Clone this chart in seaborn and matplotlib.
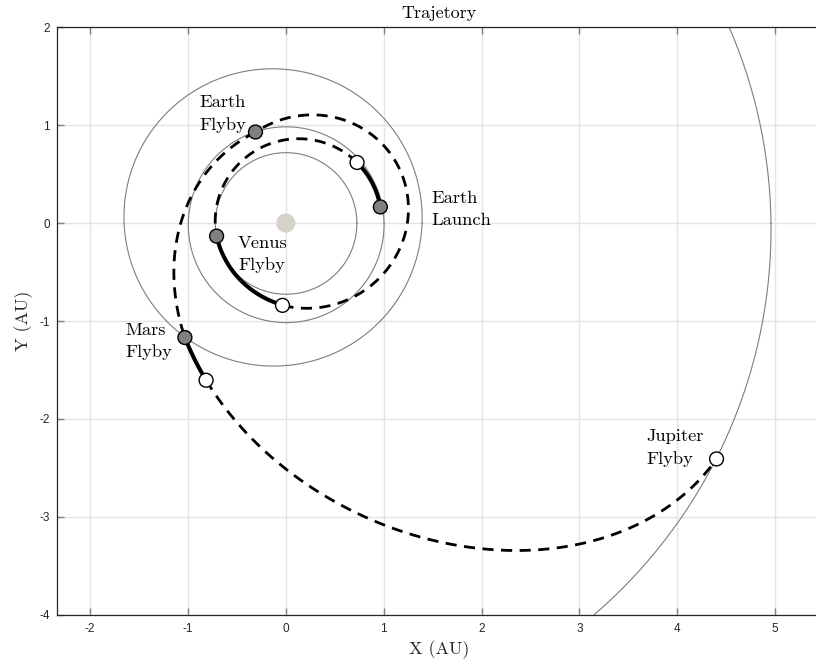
import numpy as np
import pandas as pd
import matplotlib
matplotlib.use("Agg")
import matplotlib.pyplot as plt
import seaborn as sns

# ---- planetary orbits (heliocentric, ecliptic plane) ----
planet_names = ["Venus", "Earth", "Mars", "Jupiter"]
planet_a = [0.723, 1.000, 1.524, 5.203]          # semi-major axis [AU]
planet_e = [0.0068, 0.0167, 0.0934, 0.0489]      # eccentricity
planet_varpi = [131.5, 102.9, 336.0, 14.75]      # longitude of perihelion [deg]

# ---- trajectory legs: conic arcs with the Sun at the focus ----
# r = p / (1 + e cos(theta - omega)), theta swept from theta0 to theta1 [deg]
leg_kind = ["coast", "transfer", "coast", "transfer", "transfer", "coast", "transfer"]
leg_p = [0.8297, 0.8297, 0.926, 0.946, 1.468, 1.8375, 1.8375]
leg_e = [0.1533, 0.1533, 0.2903, 0.2648, 0.545, 0.635, 0.635]
leg_omega = [189.7, 189.7, 199.0, 205.9, 132.5, 155.0, 155.0]
leg_theta0 = [9.7, 40.4, 190.65, 267.7, 108.4, 228.6, 243.1]
leg_theta1 = [40.4, 190.65, 267.7, 468.4, 228.6, 243.1, 331.3]

# ---- mission events (planet encounters and deep-space manoeuvres) ----
event_leg = [0, 0, 2, 3, 4, 5, 6, 6]
event_theta = [9.7, 40.4, 190.65, 267.7, 108.4, 228.6, 243.1, 331.3]
event_kind = ["encounter", "maneuver", "encounter", "maneuver",
              "encounter", "encounter", "maneuver", "maneuver"]

label_text = ["Earth\nLaunch", "Venus\nFlyby", "Earth\nFlyby", "Mars\nFlyby", "Jupiter\nFlyby"]

x_ticks = [-2, -1, 0, 1, 2, 3, 4, 5]
y_ticks = [-4, -3, -2, -1, 0, 1, 2]


def conic_xy(p, e, omega, theta):
    th = np.radians(theta)
    r = p / (1.0 + e * np.cos(th - np.radians(omega)))
    return r * np.cos(th), r * np.sin(th)


# orbit table
orbit_rows = []
for name, a, e, w in zip(planet_names, planet_a, planet_e, planet_varpi):
    th = np.linspace(0.0, 360.0, 721)
    x, y = conic_xy(a * (1 - e ** 2), e, w, th)
    orbit_rows.append(pd.DataFrame({"x": x, "y": y, "planet": name, "i": np.arange(th.size)}))
orbits = pd.concat(orbit_rows, ignore_index=True)

# trajectory table
leg_rows = []
for k, (kind, p, e, w, t0, t1) in enumerate(zip(leg_kind, leg_p, leg_e, leg_omega,
                                                 leg_theta0, leg_theta1)):
    th = np.linspace(t0, t1, 300)
    x, y = conic_xy(p, e, w, th)
    leg_rows.append(pd.DataFrame({"x": x, "y": y, "leg": k, "kind": kind,
                                  "i": np.arange(th.size)}))
legs = pd.concat(leg_rows, ignore_index=True)

# event positions on their legs
ev_x, ev_y = [], []
for li, th in zip(event_leg, event_theta):
    x, y = conic_xy(leg_p[li], leg_e[li], leg_omega[li], th)
    ev_x.append(x)
    ev_y.append(y)
events = pd.DataFrame({"x": ev_x, "y": ev_y, "kind": event_kind})

sns.set_theme(style="whitegrid")
plt.rcParams["font.family"] = ["Liberation Sans", "DejaVu Sans"]

fig = plt.figure(figsize=(8.16, 6.61), dpi=100)
ax = fig.add_axes([56.7 / 816, (661 - 614.7) / 661, 764 / 816, 587.4 / 661])

# planetary orbits
sns.lineplot(data=orbits, x="x", y="y", units="planet", estimator=None, sort=False,
             color="#7d7d7d", lw=0.8, ax=ax, legend=False, zorder=2)

# Sun
ax.scatter([0], [0], s=190, color="#d6d1cb", edgecolor="none", zorder=3)

# trajectory
sns.lineplot(data=legs, x="x", y="y", units="leg", estimator=None, sort=False,
             style="kind", size="kind",
             dashes={"coast": "", "transfer": (4.0, 2.7)},
             sizes={"coast": 2.9, "transfer": 2.0},
             color="black", ax=ax, legend=False, zorder=4)

# event markers
sns.scatterplot(data=events, x="x", y="y", hue="kind",
                palette={"encounter": "#808080", "maneuver": "white"},
                s=100, edgecolor="black", linewidth=1.0, ax=ax, legend=False, zorder=5)

# annotations (left edge, baseline of second line)
label_pos = {"Earth\nLaunch": (1.483, -0.017),
             "Venus\nFlyby": (-0.488, -0.484),
             "Earth\nFlyby": (-0.884, 0.953),
             "Mars\nFlyby": (-1.639, -1.369),
             "Jupiter\nFlyby": (3.679, -2.459)}
for txt in label_text:
    lx, ly = label_pos[txt]
    ax.text(lx, ly, txt, fontfamily="cmr10", fontsize=13.3, ha="left", va="baseline",
            linespacing=1.52, color="black", zorder=6)

ax.set_xlim(-2.34, -2.34 + 764 / 97.9)
ax.set_ylim(-4, 2)
ax.set_xticks(x_ticks)
ax.set_yticks(y_ticks)
ax.set_xticklabels([str(v) for v in x_ticks])
ax.set_yticklabels([str(v) for v in y_ticks])

ax.grid(True, color="#e4e4e4", lw=1.0)
ax.set_axisbelow(True)
for side in ("left", "bottom", "top"):
    ax.spines[side].set_color("#262626")
    ax.spines[side].set_linewidth(0.9)
ax.spines["right"].set_visible(False)

ax.tick_params(direction="in", length=5, width=1.0, color="#808080",
               top=True, bottom=True, left=True, right=False,
               labelsize=8.5, labelcolor="#262626")
ax.tick_params(axis="x", pad=6)
ax.tick_params(axis="y", pad=5)

ax.set_title("Trajetory", fontfamily="cmr10", fontsize=13, pad=6.5, color="black")
ax.set_xlabel("X (AU)", fontfamily="cmr10", fontsize=13, color="#262626")
ax.set_ylabel("Y (AU)", fontfamily="cmr10", fontsize=13, color="#262626")
ax.xaxis.set_label_coords(0.5, -0.044)
ax.yaxis.set_label_coords(-0.031, 0.5)

fig.savefig("out.png", dpi=100)
